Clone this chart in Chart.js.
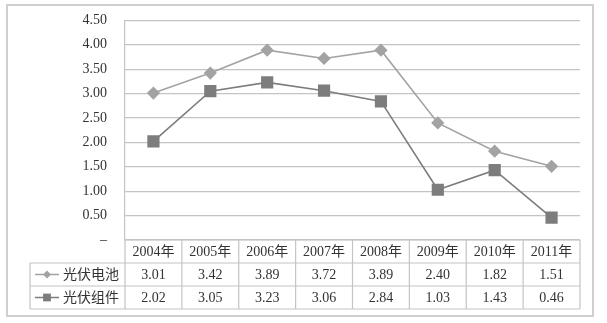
<!DOCTYPE html>
<html>
<head>
<meta charset="utf-8">
<script src="https://cdn.jsdelivr.net/npm/chart.js@4"></script>
<style>
  html, body { margin: 0; padding: 0; background: #fff; overflow: hidden; }
  /* 画布上移 6px，使绘图区顶部与原图对齐 */
  #wrap { position: absolute; left: 0; top: -6px; width: 607px; height: 329px; }
</style>
</head>
<body>
<div id="wrap"><canvas id="chart"></canvas></div>
<script>
const years = ["2004年", "2005年", "2006年", "2007年", "2008年", "2009年", "2010年", "2011年"];
const cellValues = [3.01, 3.42, 3.89, 3.72, 3.89, 2.40, 1.82, 1.51];
const moduleValues = [2.02, 3.05, 3.23, 3.06, 2.84, 1.03, 1.43, 0.46];
const seriesNames = ["光伏电池", "光伏组件"];
const yTicks = [0, 0.5, 1, 1.5, 2, 2.5, 3, 3.5, 4, 4.5];

const textColor = "#333";
const gridColor = "#c4c4c4";
const tableFont = "14px 'Liberation Serif', 'Noto Sans CJK SC', serif";

// 外框 + 图表下方的数据表（列宽取自 x 轴刻度）
const dataTablePlugin = {
  id: "dataTable",
  beforeDraw(chart) {
    const { ctx } = chart;
    ctx.save();
    ctx.strokeStyle = "#cfcfcf";
    ctx.lineWidth = 2;
    ctx.strokeRect(7, 11, 586, 311);
    ctx.restore();
  },
  afterDraw(chart) {
    const { ctx, chartArea } = chart;
    const xs = chart.scales.x;
    const n = years.length;
    const rowH = 23;
    const top = chartArea.bottom;
    const labelLeft = 30;

    const edges = [chartArea.left];
    for (let i = 0; i < n - 1; i++) {
      edges.push((xs.getPixelForValue(i) + xs.getPixelForValue(i + 1)) / 2);
    }
    edges.push(chartArea.right);

    ctx.save();
    ctx.strokeStyle = gridColor;
    ctx.lineWidth = 1.2;
    ctx.beginPath();
    // 横线
    ctx.moveTo(chartArea.left, top);
    ctx.lineTo(chartArea.right, top);
    for (let r = 1; r <= 3; r++) {
      ctx.moveTo(labelLeft, top + r * rowH);
      ctx.lineTo(chartArea.right, top + r * rowH);
    }
    // 竖线
    edges.forEach(function (x) {
      ctx.moveTo(x, top);
      ctx.lineTo(x, top + 3 * rowH);
    });
    ctx.moveTo(labelLeft, top + rowH);
    ctx.lineTo(labelLeft, top + 3 * rowH);
    ctx.stroke();

    ctx.font = tableFont;
    ctx.fillStyle = textColor;
    ctx.textAlign = "center";
    ctx.textBaseline = "middle";
    const rows = [cellValues, moduleValues];
    for (let i = 0; i < n; i++) {
      const cx = (edges[i] + edges[i + 1]) / 2;
      ctx.fillText(years[i], cx, top + rowH / 2 + 1);
      rows.forEach(function (vals, r) {
        ctx.fillText(vals[i].toFixed(2), cx, top + rowH * (r + 1.5) + 1);
      });
    }

    // 图例单元格
    chart.data.datasets.forEach(function (ds, r) {
      const cy = top + rowH * (r + 1.5);
      ctx.strokeStyle = ds.borderColor;
      ctx.lineWidth = 1.5;
      ctx.beginPath();
      ctx.moveTo(35, cy);
      ctx.lineTo(59, cy);
      ctx.stroke();
      ctx.fillStyle = ds.borderColor;
      Chart.helpers.drawPoint(ctx, {
        pointStyle: ds.pointStyle,
        rotation: 0,
        borderWidth: 0,
        radius: r === 0 ? 4 : 5.5,
      }, 47, cy);
      ctx.fillStyle = textColor;
      ctx.textAlign = "left";
      ctx.fillText(ds.label, 63, cy + 1);
    });
    ctx.restore();
  },
};

new Chart(document.getElementById("chart"), {
  type: "line",
  data: {
    labels: years,
    datasets: [
      {
        label: seriesNames[0],
        data: cellValues,
        borderColor: "#a3a3a3",
        backgroundColor: "#a3a3a3",
        borderWidth: 1.6,
        pointStyle: "rectRot",
        pointRadius: 5.5,
        pointHoverRadius: 5.5,
      },
      {
        label: seriesNames[1],
        data: moduleValues,
        borderColor: "#7d7d7d",
        backgroundColor: "#7d7d7d",
        borderWidth: 1.6,
        pointStyle: "rect",
        pointRadius: 7.5,
        pointHoverRadius: 7.5,
      },
    ],
  },
  options: {
    responsive: true,
    maintainAspectRatio: false,
    animation: false,
    devicePixelRatio: 1,
    layout: { padding: { top: 10, right: 27, bottom: 83, left: 0 } },
    plugins: { legend: { display: false }, tooltip: { enabled: false } },
    scales: {
      x: {
        type: "category",
        offset: true,
        display: false,
      },
      y: {
        min: 0,
        max: 4.5,
        afterFit(scale) { scale.width = 125; },
        afterBuildTicks(scale) { scale.ticks = yTicks.map((v) => ({ value: v })); },
        ticks: {
          padding: 18,
          color: textColor,
          font: { family: "'Liberation Serif', serif", size: 14 },
          callback: (v) => (v === 0 ? "–" : v.toFixed(2)),
        },
        grid: { color: gridColor, lineWidth: 1.2, drawTicks: false },
        border: { display: true, color: gridColor, width: 1.2 },
      },
    },
  },
  plugins: [dataTablePlugin],
});
</script>
</body>
</html>
